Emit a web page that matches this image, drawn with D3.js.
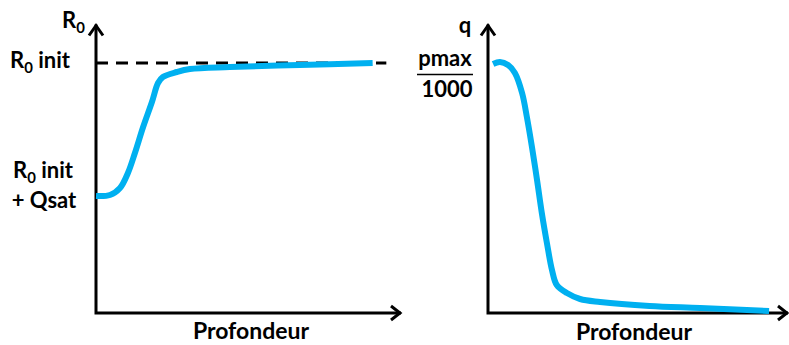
<!DOCTYPE html>
<html>
<head>
<meta charset="utf-8">
<script src="https://cdn.jsdelivr.net/npm/d3@7"></script>
<style>
  body { margin: 0; background: #fff; }
  svg text { font-family: Lato, "Open Sans", sans-serif; font-weight: 700; fill: #000; }
</style>
</head>
<body>
<div id="chart"></div>
<script>
// Left panel: R0 vs depth
const depthLeft = [0, 4.6, 7.9, 10.5, 12.8, 15.5, 18.4, 20.4, 22, 26.6, 30.9, 44, 67, 91];
const r0Values  = [0.468, 0.472, 0.5, 0.56, 0.64, 0.744, 0.844, 0.92, 0.944, 0.964, 0.976, 0.984, 0.992, 1.0];
const r0Init = 1.0;
const r0InitQsat = 0.47;

// Right panel: q vs depth
const depthRight = [1.7, 4, 6.7, 9, 11.4, 13, 14.7, 16.4, 18, 19.7, 21.4, 23, 26.4, 30.8, 37.5, 54, 71, 94];
const qValues    = [0.996, 1.004, 0.992, 0.96, 0.88, 0.784, 0.664, 0.532, 0.4, 0.28, 0.172, 0.112, 0.08, 0.056, 0.044, 0.028, 0.02, 0.008];
const qMax = 1.0;

const xTitle = 'Profondeur';

const svg = d3.select('#chart').append('svg')
  .attr('width', 789)
  .attr('height', 345);

const blue = '#00B0F0';

// Scales
const yScale = d3.scaleLinear().domain([0, 1.15]).range([313, 25.5]);
const xLeft = d3.scaleLinear().domain([0, 100]).range([96, 400]);
const xRight = d3.scaleLinear().domain([0, 100]).range([488, 787]);

const line = (xs, ys, xScale) => d3.line()
  .x((d, i) => xScale(xs[i]))
  .y(d => yScale(d))
  .curve(d3.curveCatmullRom.alpha(0.5))(ys);

// axes with arrows
function drawAxes(xScale) {
  const x0 = xScale(0), x1 = xScale(100) + 1;
  const y0 = yScale(0), y1 = yScale(1.15) - 1;
  const g = svg.append('g')
    .attr('fill', 'none')
    .attr('stroke', '#000')
    .attr('stroke-width', 3);
  g.append('path')
    .attr('d', `M${x0},${y1}V${y0}H${x1}`)
    .attr('stroke-linejoin', 'miter');
  // y arrow
  g.append('path')
    .attr('d', `M${x0 - 7},${y1 + 11}L${x0},${y1 + 1}L${x0 + 7},${y1 + 11}`);
  // x arrow
  g.append('path')
    .attr('d', `M${x1 - 10},${y0 - 7}L${x1 - 1},${y0}L${x1 - 10},${y0 + 7}`);
}

drawAxes(xLeft);
drawAxes(xRight);

// dashed R0 init line
svg.append('line')
  .attr('x1', xLeft(0)).attr('x2', xLeft(95.5))
  .attr('y1', yScale(r0Init)).attr('y2', yScale(r0Init))
  .attr('stroke', '#000')
  .attr('stroke-width', 3)
  .attr('stroke-dasharray', '12,8');

// curves
svg.append('path')
  .attr('d', line(depthLeft, r0Values, xLeft))
  .attr('fill', 'none')
  .attr('stroke', blue)
  .attr('stroke-width', 6)
  .attr('stroke-linecap', 'butt');

svg.append('path')
  .attr('d', line(depthRight, qValues, xRight))
  .attr('fill', 'none')
  .attr('stroke', blue)
  .attr('stroke-width', 6)
  .attr('stroke-linecap', 'butt');

// helper for R0 text with subscript
function r0Text(x, y, anchor, suffix, size) {
  const t = svg.append('text')
    .attr('x', x).attr('y', y)
    .attr('text-anchor', anchor)
    .attr('font-size', size);
  t.append('tspan').text('R');
  t.append('tspan').text('0').attr('font-size', size * 0.68).attr('dy', 5);
  if (suffix) t.append('tspan').text(suffix).attr('dy', -5);
  return t;
}

// left labels
r0Text(62, 28, 'start', '', 22);
r0Text(40, 68, 'middle', ' init', 22);
r0Text(43, 178, 'middle', ' init', 22);
svg.append('text')
  .attr('x', 44).attr('y', 208)
  .attr('text-anchor', 'middle')
  .attr('font-size', 22)
  .text('+ Qsat');

// right labels
svg.append('text')
  .attr('x', 465).attr('y', 33)
  .attr('text-anchor', 'middle')
  .attr('font-size', 22)
  .text('q');
svg.append('text')
  .attr('x', 445).attr('y', 66)
  .attr('text-anchor', 'middle')
  .attr('font-size', 22)
  .text('pmax');
svg.append('line')
  .attr('x1', 417).attr('x2', 473)
  .attr('y1', 74.5).attr('y2', 74.5)
  .attr('stroke', '#000')
  .attr('stroke-width', 1.5);
svg.append('text')
  .attr('x', 447).attr('y', 97)
  .attr('text-anchor', 'middle')
  .attr('font-size', 22)
  .text('1000');

// x titles
svg.append('text')
  .attr('x', 251).attr('y', 339)
  .attr('text-anchor', 'middle')
  .attr('font-size', 23)
  .text(xTitle);
svg.append('text')
  .attr('x', 634).attr('y', 340)
  .attr('text-anchor', 'middle')
  .attr('font-size', 23)
  .text(xTitle);
</script>
</body>
</html>
